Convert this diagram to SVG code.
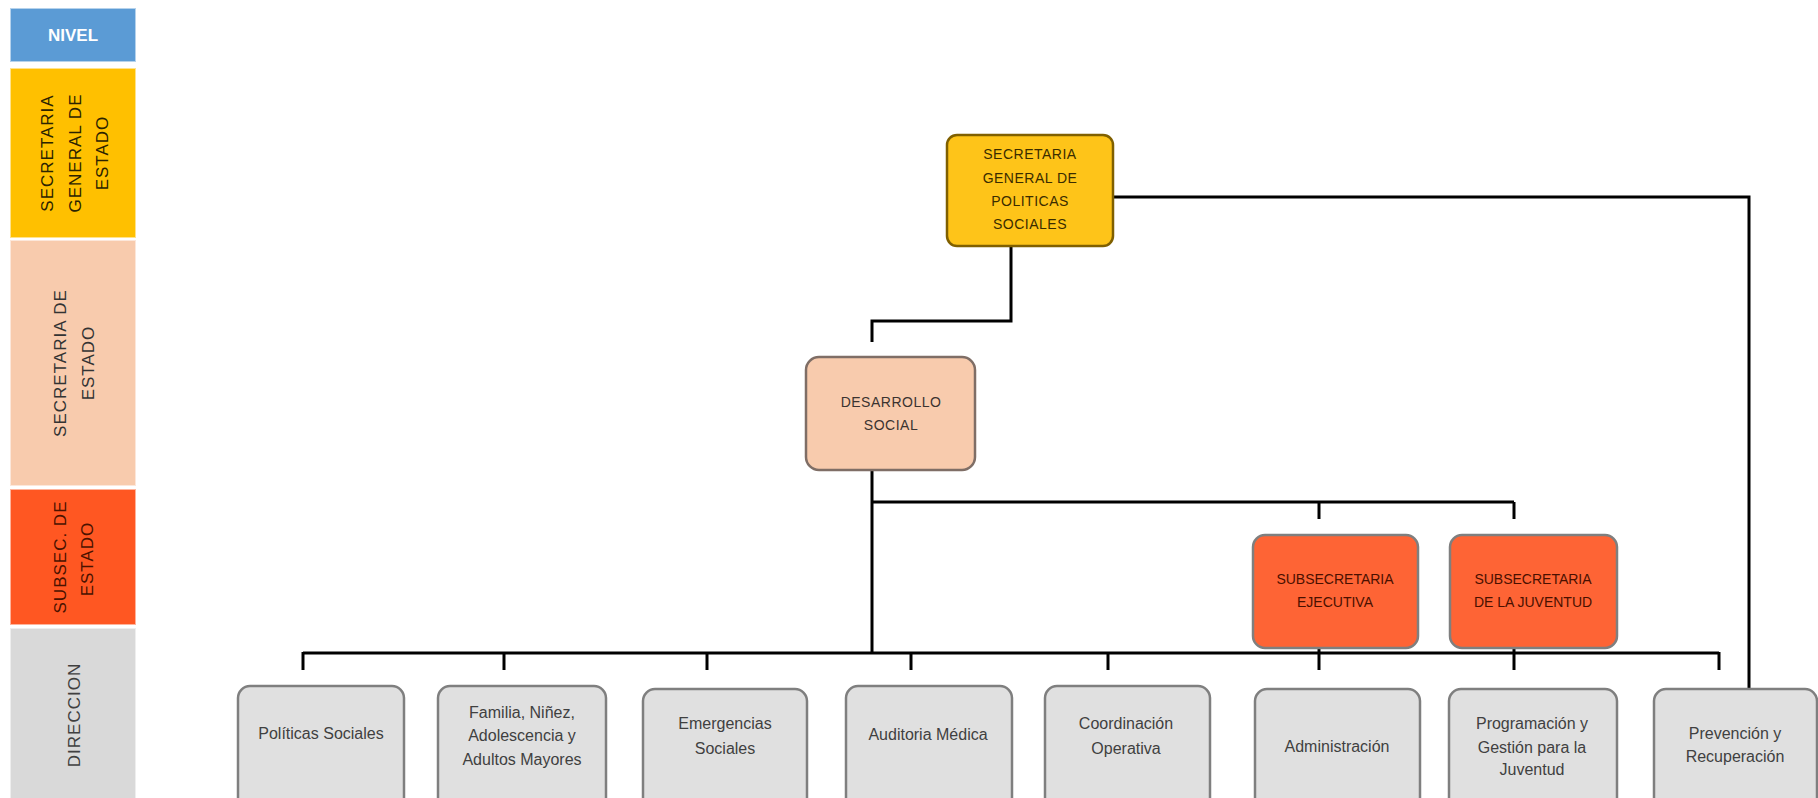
<svg xmlns="http://www.w3.org/2000/svg" width="1818" height="798" viewBox="0 0 1818 798">
  <style>
    .lvl { stroke: #ffffff; stroke-opacity: 0.55; stroke-width: 2; }
    .lvltxt { font-family: "Liberation Sans", Arial, sans-serif; font-size: 17px; text-anchor: middle; }
    .node rect { stroke-width: 2.5; }
    .ntxt { font-family: "Liberation Sans", Arial, sans-serif; font-size: 14px; text-anchor: middle; }
    .btxt { font-family: "Liberation Sans", Arial, sans-serif; font-size: 16px; text-anchor: middle; fill: #404040; }
    .conn { fill: none; stroke: #000000; stroke-width: 3; stroke-linejoin: miter; }
    .dir rect { fill: #e0e0e0; stroke: #7f7f7f; }
  </style>

  <rect x="0" y="0" width="1818" height="798" fill="#ffffff"/>

  <!-- level column -->
  <g id="levels">
    <g id="lvl-nivel">
      <rect class="lvl" x="10" y="8" width="126" height="54" fill="#5b9bd5"/>
      <text class="lvltxt" x="73" y="41" font-weight="bold" fill="#ffffff" font-size="17">NIVEL</text>
    </g>
    <g id="lvl-sge">
      <rect class="lvl" x="10" y="68" width="126" height="170" fill="#ffc000"/>
      <g transform="translate(73 153) rotate(-90)" fill="#2b2300">
        <text class="lvltxt" x="0" y="-20" letter-spacing="1">SECRETARIA</text>
        <text class="lvltxt" x="0" y="8" letter-spacing="1">GENERAL DE</text>
        <text class="lvltxt" x="0" y="35" letter-spacing="1">ESTADO</text>
      </g>
    </g>
    <g id="lvl-se">
      <rect class="lvl" x="10" y="240" width="126" height="246" fill="#f8cbad"/>
      <g transform="translate(73 363) rotate(-90)" fill="#333333">
        <text class="lvltxt" x="0" y="-7" letter-spacing="1">SECRETARIA DE</text>
        <text class="lvltxt" x="0" y="21" letter-spacing="1">ESTADO</text>
      </g>
    </g>
    <g id="lvl-sub">
      <rect class="lvl" x="10" y="489" width="126" height="136" fill="#ff5722"/>
      <g transform="translate(73 557) rotate(-90)" fill="#4a1200">
        <text class="lvltxt" x="0" y="-7" letter-spacing="1">SUBSEC. DE</text>
        <text class="lvltxt" x="-2" y="20" letter-spacing="1">ESTADO</text>
      </g>
    </g>
    <g id="lvl-dir">
      <rect class="lvl" x="10" y="628" width="126" height="180" fill="#d9d9d9"/>
      <g transform="translate(73 715) rotate(-90)" fill="#404040">
        <text class="lvltxt" x="0" y="7" letter-spacing="1">DIRECCION</text>
      </g>
    </g>
  </g>

  <!-- connectors -->
  <g id="connectors" class="conn">
    <path d="M1011 246 V321 H872 V342"/>
    <path d="M1113 197 H1749 V688"/>
    <path d="M872 470 V653"/>
    <path d="M872 502 H1514"/>
    <path d="M1319 502 V519"/>
    <path d="M1514 502 V519"/>
    <path d="M303 653 H1719"/>
    <path d="M303 652 V670"/>
    <path d="M504 652 V670"/>
    <path d="M707 652 V670"/>
    <path d="M911 652 V670"/>
    <path d="M1108 652 V670"/>
    <path d="M1719 652 V670"/>
    <path d="M1319 648 V670"/>
    <path d="M1514 648 V670"/>
  </g>

  <!-- top level -->
  <g id="sgps" class="node">
    <rect x="947" y="135" width="166" height="111" rx="10" fill="#fec419" stroke="#806000"/>
    <g class="ntxt" fill="#3a2c00" letter-spacing="0.5">
      <text x="1030" y="159">SECRETARIA</text>
      <text x="1030" y="183">GENERAL  DE</text>
      <text x="1030" y="206">POLITICAS</text>
      <text x="1030" y="229">SOCIALES</text>
    </g>
  </g>

  <g id="desarrollo-social" class="node">
    <rect x="806" y="357" width="169" height="113" rx="13" fill="#f8cbad" stroke="#7f6e66"/>
    <g class="ntxt" fill="#3b3330" letter-spacing="0.5">
      <text x="891" y="407">DESARROLLO</text>
      <text x="891" y="430">SOCIAL</text>
    </g>
  </g>

  <g id="sub-ejecutiva" class="node">
    <rect x="1253" y="535" width="165" height="113" rx="12" fill="#fe6435" stroke="#7f7f7f"/>
    <g class="ntxt" fill="#4a1000">
      <text x="1335" y="584">SUBSECRETARIA</text>
      <text x="1335" y="607">EJECUTIVA</text>
    </g>
  </g>

  <g id="sub-juventud" class="node">
    <rect x="1450" y="535" width="167" height="113" rx="12" fill="#fe6435" stroke="#7f7f7f"/>
    <g class="ntxt" fill="#4a1000">
      <text x="1533" y="584">SUBSECRETARIA</text>
      <text x="1533" y="607">DE LA JUVENTUD</text>
    </g>
  </g>

  <!-- directions -->
  <g id="dir-politicas" class="node dir">
    <rect x="238" y="686" width="166" height="130" rx="12"/>
    <text class="btxt" x="321" y="739">Políticas Sociales</text>
  </g>
  <g id="dir-familia" class="node dir">
    <rect x="438" y="686" width="168" height="130" rx="12"/>
    <text class="btxt" x="522" y="718">Familia, Niñez,</text>
    <text class="btxt" x="522" y="741">Adolescencia y</text>
    <text class="btxt" x="522" y="765">Adultos Mayores</text>
  </g>
  <g id="dir-emergencias" class="node dir">
    <rect x="643" y="689" width="164" height="127" rx="12"/>
    <text class="btxt" x="725" y="729">Emergencias</text>
    <text class="btxt" x="725" y="754">Sociales</text>
  </g>
  <g id="dir-auditoria" class="node dir">
    <rect x="846" y="686" width="166" height="130" rx="12"/>
    <text class="btxt" x="928" y="740">Auditoria Médica</text>
  </g>
  <g id="dir-coordinacion" class="node dir">
    <rect x="1045" y="686" width="165" height="130" rx="12"/>
    <text class="btxt" x="1126" y="729">Coordinación</text>
    <text class="btxt" x="1126" y="754">Operativa</text>
  </g>
  <g id="dir-administracion" class="node dir">
    <rect x="1255" y="689" width="165" height="127" rx="12"/>
    <text class="btxt" x="1337" y="752">Administración</text>
  </g>
  <g id="dir-programacion" class="node dir">
    <rect x="1449" y="689" width="168" height="127" rx="12"/>
    <text class="btxt" x="1532" y="729">Programación y</text>
    <text class="btxt" x="1532" y="753">Gestión para la</text>
    <text class="btxt" x="1532" y="775">Juventud</text>
  </g>
  <g id="dir-prevencion" class="node dir">
    <rect x="1654" y="689" width="163" height="127" rx="12"/>
    <text class="btxt" x="1735" y="739">Prevención y</text>
    <text class="btxt" x="1735" y="762">Recuperación</text>
  </g>
</svg>
